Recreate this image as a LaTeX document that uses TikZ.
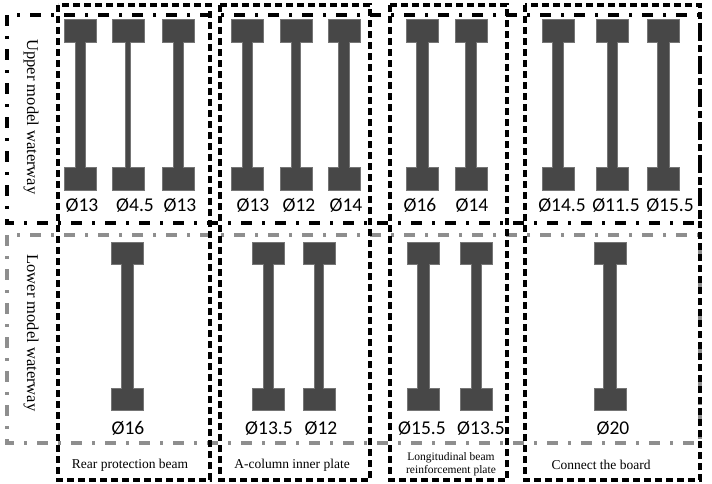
\documentclass[tikz,border=0pt]{standalone}
\usepackage{fontspec}
\setmainfont{Liberation Serif}
\newfontfamily\diafont{Carlito}
\usetikzlibrary{positioning}
\definecolor{BeamGrey}{HTML}{474747}
\definecolor{LineGrey}{HTML}{8E8E8E}
\tikzset{
  colbox/.style={draw=black,line width=3.3pt,dash pattern=on 7pt off 4pt},
  rowbox/.style={line width=3.3pt,dash pattern=on 11pt off 10pt on 3pt off 10pt},
  beam/.style={fill=BeamGrey,draw=BeamGrey!75,line width=0.5pt},
  dia/.style={font=\diafont\fontsize{19.5}{20}\selectfont,inner sep=0pt},
  rowlab/.style={font=\fontsize{16.5}{17}\selectfont,rotate=-90,inner sep=0pt},
  partlab/.style={font=\fontsize{13.5}{14}\selectfont,align=center,inner sep=0pt}
}

\begin{document}
\begin{tikzpicture}[x=1pt,y=-1pt]
  \useasboundingbox (0,0) rectangle (712,483);
  % model waterway rows
  \draw[rowbox,black] (7,15) rectangle (700,223);
  \draw[rowbox,LineGrey] (7,235) rectangle (700,443);
  \node[rowlab] (upper) at (31,117) {Upper model waterway};
  \node[rowlab] (lower) at (31,333) {Lower model waterway};
  % parts
  \foreach \l/\r in {58/210,220/370,390/507,525/700}
  {
  \draw[colbox] (\l,5) rectangle (\r,480);
  }
  \node[partlab] (rear) at (130,465) {Rear protection beam};
  \node[partlab] (acol) at (292,465) {A-column inner plate};
  \node[partlab,font=\fontsize{11.5}{12.5}\selectfont] (long) at (451,464) {Longitudinal beam\\reinforcement plate};
  \node[partlab] (conn) at (601,465) {Connect the board};
  % upper waterway: x / stem width / label x / diameter
  \foreach \x/\w/\lx/\d/\n in {
  80/10/82/13/1, 128/5/135/4.5/2, 178/10/180/13/3,
  247/10/253/13/4, 296/9/299/12/5, 344/11/346/14/6,
  422/12/420/16/7, 471/11/472/14/8,
  558/11/562/14.5/9, 612/10/616/11.5/10, 663/12/670/15.5/11}
  {
  \draw[beam] (\x-16,19) -- (\x+16,19) -- (\x+16,42) -- (\x+\w/2,42) -- (\x+\w/2,167)
    -- (\x+16,167) -- (\x+16,190) -- (\x-16,190) -- (\x-16,167) -- (\x-\w/2,167)
    -- (\x-\w/2,42) -- (\x-16,42) -- cycle;
  \node[dia] (u\n) at (\lx,205) {Ø\d};
  }
  % lower waterway
  \foreach \x/\w/\lx/\d/\n in {
  127/12/128/16/1,
  268/10/269/13.5/2, 319/9/321/12/3,
  423/12/422/15.5/4, 476/10/481/13.5/5,
  610/13/613/20/6}
  {
  \draw[beam] (\x-16,242) -- (\x+16,242) -- (\x+16,264) -- (\x+\w/2,264) -- (\x+\w/2,388)
    -- (\x+16,388) -- (\x+16,410) -- (\x-16,410) -- (\x-16,388) -- (\x-\w/2,388)
    -- (\x-\w/2,264) -- (\x-16,264) -- cycle;
  \node[dia] (l\n) at (\lx,428) {Ø\d};
  }
\end{tikzpicture}
\end{document}
